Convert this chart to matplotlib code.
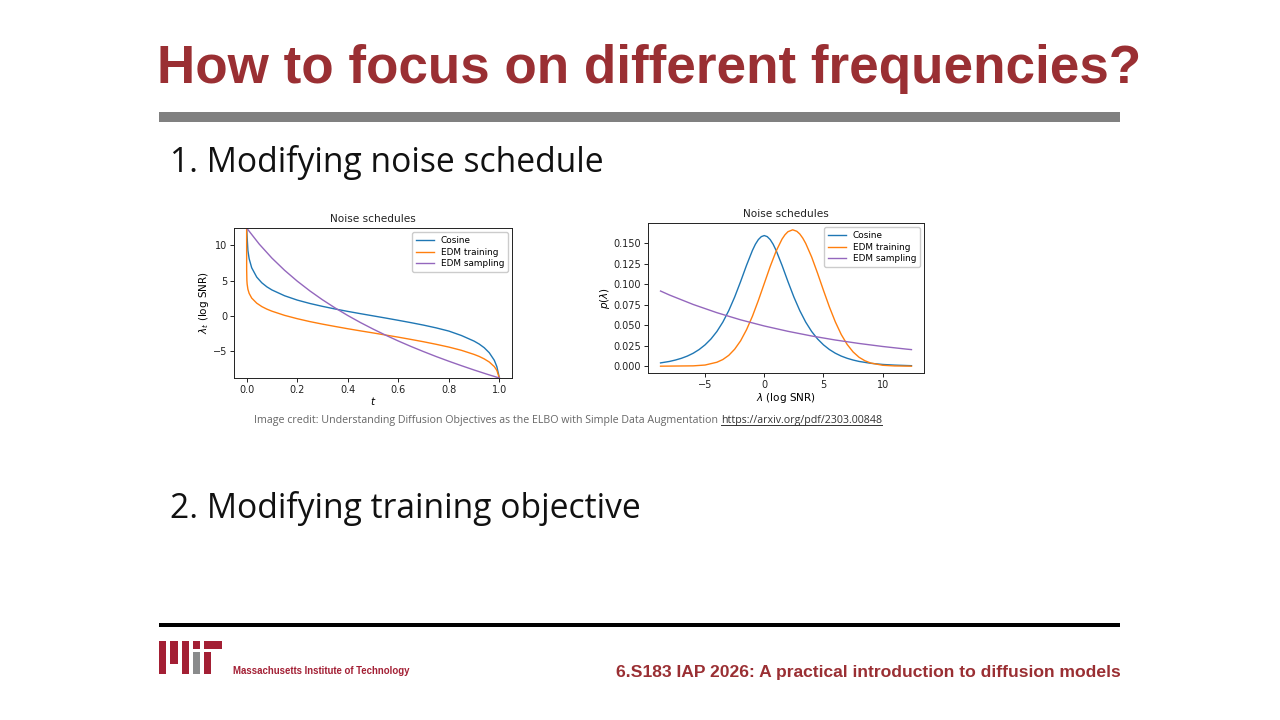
import matplotlib
matplotlib.use("Agg")
import matplotlib.pyplot as plt
from matplotlib.patches import Rectangle
from matplotlib.lines import Line2D

# left panel: schedules lambda(t)
t_cos = [0.0, 0.005, 0.01, 0.02, 0.04, 0.06, 0.08, 0.1, 0.15, 0.2, 0.25, 0.3, 0.35, 0.4, 0.45,
         0.5, 0.55, 0.6, 0.65, 0.7, 0.75, 0.8, 0.85, 0.9, 0.92, 0.94, 0.96, 0.98, 0.99, 1.0]
lam_cos = [12.43, 9.25, 8.08, 6.81, 5.49, 4.69, 4.12, 3.68, 2.86, 2.25, 1.77, 1.36, 0.99, 0.65, 0.33,
           0.02, -0.29, -0.61, -0.94, -1.29, -1.68, -2.13, -2.76, -3.55, -3.96, -4.48, -5.19, -6.26, -7.15, -8.76]

t_edm = [0.0, 0.0001, 0.001, 0.002, 0.005, 0.01, 0.02, 0.04, 0.06, 0.08, 0.1, 0.15, 0.2, 0.25, 0.3,
         0.35, 0.4, 0.45, 0.5, 0.55, 0.6, 0.65, 0.7, 0.75, 0.8, 0.85, 0.9, 0.92, 0.94, 0.96, 0.98, 0.99, 1.0]
lam_edm = [12.43, 6.53, 5.02, 4.51, 3.78, 3.19, 2.53, 1.81, 1.33, 0.97, 0.68, 0.09, -0.38, -0.79, -1.15,
           -1.48, -1.80, -2.10, -2.39, -2.69, -2.99, -3.31, -3.64, -4.00, -4.39, -4.85, -5.43, -5.71, -6.06, -6.50, -7.15, -7.68, -8.76]

t_samp = [0.0, 0.05, 0.1, 0.15, 0.2, 0.25, 0.3, 0.35, 0.4, 0.45, 0.5, 0.55, 0.6, 0.65, 0.7,
          0.75, 0.8, 0.85, 0.9, 0.95, 1.0]
lam_samp = [12.43, 10.15, 8.18, 6.46, 4.93, 3.55, 2.29, 1.14, 0.07, -0.92, -1.84, -2.71, -3.53, -4.30, -5.03,
            -5.73, -6.39, -7.02, -7.63, -8.21, -8.76]

# right panel: densities p(lambda)
x_cos = [-8.76, -8, -7.5, -7, -6.5, -6, -5.5, -5, -4.5, -4, -3.5, -3, -2.5, -2, -1.5, -1, -0.75, -0.5, -0.25,
         0, 0.25, 0.5, 0.75, 1, 1.5, 2, 2.5, 3, 3.5, 4, 4.5, 5, 5.5, 6, 6.5, 7, 7.5, 8, 9, 10, 11, 12, 12.43]
p_cos = [0.0040, 0.0058, 0.0075, 0.0096, 0.0123, 0.0158, 0.0203, 0.0260, 0.0332, 0.0423, 0.0537, 0.0677,
         0.0843, 0.1031, 0.1229, 0.1411, 0.1486, 0.1543, 0.1579, 0.1592, 0.1579, 0.1543, 0.1486, 0.1411,
         0.1229, 0.1031, 0.0843, 0.0677, 0.0537, 0.0423, 0.0332, 0.0260, 0.0203, 0.0158, 0.0123, 0.0096,
         0.0075, 0.0058, 0.0035, 0.0021, 0.0013, 0.0008, 0.0006]

x_edm = [-8.76, -6, -5, -4, -3.5, -3, -2.5, -2, -1.5, -1, -0.5, 0, 0.5, 1, 1.5, 1.75, 2, 2.4, 2.75, 3, 3.25,
         3.5, 4, 4.5, 5, 5.5, 6, 6.5, 7, 7.5, 8, 8.5, 9, 10, 11, 12.43]
p_edm = [0.0000, 0.0004, 0.0014, 0.0048, 0.0081, 0.0132, 0.0207, 0.0309, 0.0444, 0.0609, 0.0801, 0.1008,
         0.1215, 0.1402, 0.1549, 0.1602, 0.1639, 0.1662, 0.1644, 0.1611, 0.1561, 0.1496, 0.1331, 0.1133,
         0.0924, 0.0722, 0.0540, 0.0386, 0.0265, 0.0174, 0.0109, 0.0066, 0.0038, 0.0011, 0.0003, 0.0000]

x_samp = [-8.76, -8, -6, -4, -2, 0, 2, 4, 6, 8, 10, 12, 12.43]
p_samp = [0.0916, 0.0867, 0.0752, 0.0652, 0.0565, 0.0490, 0.0425, 0.0368, 0.0319, 0.0277, 0.0240, 0.0208, 0.0202]

series_names = ["Cosine", "EDM training", "EDM sampling"]
series_colors = ["#1f77b4", "#ff7f0e", "#9467bd"]

W, H = 1280, 720
red = "#9a2f33"
mit_red = "#a31f34"
mit_gray = "#8a8b8c"

fig = plt.figure(figsize=(12.8, 7.2), dpi=100)
fig.patch.set_facecolor("white")

def px(x, y):
    # pixel coords (top-left origin) -> figure fraction
    return x / W, 1 - y / H

def add_rect(x0, y0, x1, y1, color):
    fig.patches.append(Rectangle((x0 / W, 1 - y1 / H), (x1 - x0) / W, (y1 - y0) / H,
                                 transform=fig.transFigure, color=color, lw=0))

# title + rule
fig.text(*px(649, 69), "How to focus on different frequencies?", ha="center", va="center",
         fontsize=38.2, fontweight="bold", color=red, family=["Liberation Sans", "DejaVu Sans"])
add_rect(159, 112, 1120, 122, "#808080")

fig.text(*px(170, 163), "1. Modifying noise schedule", ha="left", va="center",
         fontsize=24.2, color="#111111", family=["Open Sans", "DejaVu Sans"])
fig.text(*px(170, 508), "2. Modifying training objective", ha="left", va="center",
         fontsize=24.2, color="#111111", family=["Open Sans", "DejaVu Sans"])

# charts
tick_fs = 7.0
lab_fs = 7.5
def style(ax):
    ax.tick_params(labelsize=tick_fs, length=3, width=0.7, pad=2, colors="#222222")
    for s in ax.spines.values():
        s.set_linewidth(0.7)
        s.set_color("#222222")
    ax.set_title("Noise schedules", fontsize=7.6, pad=4, color="#222222")
    ax.legend(fontsize=6.4, loc="upper right", handlelength=2.0, borderpad=0.4,
              labelspacing=0.3, framealpha=1, edgecolor="#cccccc")

ax1 = fig.add_axes([234 / W, 1 - 378 / H, 278 / W, 150 / H])
for tt, ll, name, c in zip([t_cos, t_edm, t_samp], [lam_cos, lam_edm, lam_samp], series_names, series_colors):
    ax1.plot(tt, ll, color=c, lw=1.0, label=name)
ax1.set_ylim(min(lam_samp), max(lam_samp))
ax1.set_xticks([0.0, 0.2, 0.4, 0.6, 0.8, 1.0])
ax1.set_yticks([-5, 0, 5, 10])
ax1.set_xlabel(r"$t$", fontsize=lab_fs, labelpad=0)
ax1.set_ylabel(r"$\lambda_t$ (log SNR)", fontsize=lab_fs, labelpad=1)
style(ax1)

ax2 = fig.add_axes([648 / W, 1 - 373 / H, 276 / W, 150 / H])
for xx, pp, name, c in zip([x_cos, x_edm, x_samp], [p_cos, p_edm, p_samp], series_names, series_colors):
    ax2.plot(xx, pp, color=c, lw=1.0, label=name)
ax2.set_xticks([-5, 0, 5, 10])
ax2.set_yticks([0.0, 0.025, 0.05, 0.075, 0.1, 0.125, 0.15])
ax2.set_yticklabels(["%.3f" % v for v in [0.0, 0.025, 0.05, 0.075, 0.1, 0.125, 0.15]])
ax2.set_xlabel(r"$\lambda$ (log SNR)", fontsize=lab_fs, labelpad=1)
ax2.set_ylabel(r"$p(\lambda)$", fontsize=lab_fs, labelpad=1)
style(ax2)

# credit line
credit = fig.text(*px(254, 420), "Image credit: Understanding Diffusion Objectives as the ELBO with Simple Data Augmentation ",
                  ha="left", va="center", fontsize=7.7, color="#666666", family=["Open Sans", "DejaVu Sans"])
fig.canvas.draw()
bb = credit.get_window_extent()
url = fig.text(bb.x1 / W, 1 - 420 / H, "https://arxiv.org/pdf/2303.00848", ha="left", va="center",
               fontsize=7.7, color="#333333", family=["Open Sans", "DejaVu Sans"])
ub = url.get_window_extent(renderer=fig.canvas.get_renderer())
fig.lines.append(Line2D([ub.x0 / W, ub.x1 / W], [(ub.y0 + 1) / H, (ub.y0 + 1) / H],
                        transform=fig.transFigure, color="#333333", lw=0.7))

# footer
add_rect(159, 623, 1120, 627, "black")
for x0, y0, x1, y1, c in [(159, 641, 166, 674, mit_red), (170, 641, 178, 664, mit_red),
                          (182, 641, 189, 674, mit_red), (193, 641, 200, 649, mit_red),
                          (193, 652, 200, 674, mit_gray), (204, 641, 222, 649, mit_red),
                          (204, 652, 211, 674, mit_red)]:
    add_rect(x0, y0, x1, y1, c)
fig.text(*px(233, 671), "Massachusetts Institute of Technology", ha="left", va="center",
         fontsize=6.9, fontweight="bold", color=mit_red,
         family=["Liberation Sans Narrow", "Liberation Sans", "DejaVu Sans"])
fig.text(*px(1121, 673), "6.S183 IAP 2026: A practical introduction to diffusion models", ha="right", va="center",
         fontsize=12.6, fontweight="bold", color=red, family=["Liberation Sans", "DejaVu Sans"])

fig.savefig("out.png", dpi=100)
